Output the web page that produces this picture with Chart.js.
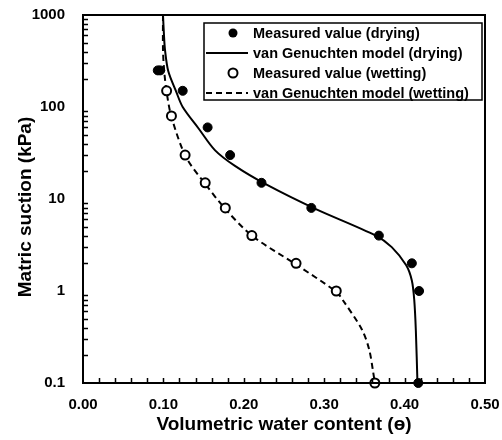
<!DOCTYPE html>
<html>
<head>
<meta charset="utf-8">
<script src="https://cdn.jsdelivr.net/npm/chart.js@4.4.1/dist/chart.umd.min.js"></script>
<style>
  html, body { margin: 0; padding: 0; background: #fff; }
  #wrap { width: 502px; height: 440px; }
</style>
</head>
<body>
<div id="wrap"><canvas id="swcc"></canvas></div>
<script>
// measured points
const dryX = [0.093, 0.096, 0.124, 0.155, 0.183, 0.222, 0.284, 0.368, 0.409, 0.418, 0.417];
const dryY = [250, 250, 150, 60, 30, 15, 8, 4, 2, 1, 0.1];
const wetX = [0.104, 0.110, 0.127, 0.152, 0.177, 0.210, 0.265, 0.315, 0.363];
const wetY = [150, 80, 30, 15, 8, 4, 2, 1, 0.1];

// fitted curves
const dryModelX = [0.0995, 0.1007, 0.102, 0.106, 0.116, 0.124, 0.144, 0.164, 0.189, 0.229, 0.289, 0.364, 0.384, 0.402, 0.409, 0.412, 0.414, 0.416];
const dryModelY = [1000, 606, 417, 246, 146, 100, 58, 34, 22.9, 14.2, 7.8, 4.0, 3.0, 1.9, 1.3, 0.8, 0.37, 0.1];
const wetModelX = [0.0995, 0.0995, 0.101, 0.104, 0.110, 0.128, 0.152, 0.177, 0.210, 0.265, 0.315, 0.323, 0.347, 0.356, 0.361, 0.363];
const wetModelY = [1000, 417, 246, 146, 78, 28.7, 14.6, 7.8, 4.0, 1.94, 0.98, 0.8, 0.38, 0.23, 0.13, 0.1];

const xTickValues = [0, 0.1, 0.2, 0.3, 0.4, 0.5];
const xTickLabels = ['0.00', '0.10', '0.20', '0.30', '0.40', '0.50'];
const yTickValues = [0.1, 1, 10, 100, 1000];
const yTickLabels = ['0.1', '1', '10', '100', '1000'];

const seriesNames = ['Measured value (drying)', 'van Genuchten model (drying)', 'Measured value (wetting)', 'van Genuchten model (wetting)'];
const yTitle = 'Matric suction (kPa)';

const FONT = '"Liberation Sans", Arial, sans-serif';

function pts(xs, ys) {
    return xs.map((x, i) => ({ x: x, y: ys[i] }));
}

// box, inward ticks, y title and the legend inside the plot
const framePlugin = {
    id: 'frame',
    afterDraw(chart) {
        const ctx = chart.ctx;
        const a = chart.chartArea;
        const xs = chart.scales.x;
        const ys = chart.scales.y;
        ctx.save();
        ctx.strokeStyle = '#000';
        ctx.lineWidth = 2;
        ctx.strokeRect(a.left, a.top, a.right - a.left, a.bottom - a.top);

        ctx.lineWidth = 1.5;
        ctx.beginPath();
        for (let i = 1; i < 25; i++) {
            const px = Math.round(xs.getPixelForValue(i * 0.02)) + 0.5;
            ctx.moveTo(px, a.bottom);
            ctx.lineTo(px, a.bottom - 5);
        }
        for (let k = -1; k < 3; k++) {
            for (let m = 2; m <= 9; m++) {
                const py = Math.round(ys.getPixelForValue(m * Math.pow(10, k))) + 0.5;
                ctx.moveTo(a.left, py);
                ctx.lineTo(a.left + 5, py);
            }
        }
        ctx.stroke();

        // y title, sits a bit below the middle of the axis in the original
        ctx.save();
        ctx.translate(26, 207);
        ctx.rotate(-Math.PI / 2);
        ctx.font = 'bold 19px ' + FONT;
        ctx.fillStyle = '#000';
        ctx.textAlign = 'center';
        ctx.textBaseline = 'middle';
        ctx.fillText(yTitle, 0, 0);
        ctx.restore();

        // legend
        const bx = a.right - 281, by = a.top + 8, bw = 278, bh = 77;
        ctx.lineWidth = 1.5;
        ctx.strokeRect(bx, by, bw, bh);
        ctx.font = 'bold 14.5px ' + FONT;
        ctx.fillStyle = '#000';
        ctx.textBaseline = 'middle';
        ctx.textAlign = 'left';
        for (let i = 0; i < 4; i++) {
            const ry = by + 10 + i * 20;
            if (i === 0) {
                ctx.beginPath();
                ctx.arc(bx + 29, ry, 4.5, 0, Math.PI * 2);
                ctx.fill();
            } else if (i === 2) {
                ctx.beginPath();
                ctx.lineWidth = 2;
                ctx.fillStyle = '#fff';
                ctx.arc(bx + 29, ry, 4.5, 0, Math.PI * 2);
                ctx.fill();
                ctx.stroke();
                ctx.fillStyle = '#000';
            } else {
                ctx.beginPath();
                ctx.lineWidth = 2;
                ctx.setLineDash(i === 3 ? [6, 4] : []);
                ctx.moveTo(bx + 2, ry);
                ctx.lineTo(bx + 44, ry);
                ctx.stroke();
                ctx.setLineDash([]);
            }
            ctx.fillText(seriesNames[i], bx + 49, ry + 1);
        }
        ctx.restore();
    }
};

new Chart(document.getElementById('swcc'), {
    type: 'scatter',
    data: {
        datasets: [{
            label: seriesNames[0],
            data: pts(dryX, dryY),
            pointRadius: 4.5,
            pointBackgroundColor: '#000',
            pointBorderColor: '#000',
            pointBorderWidth: 1,
            clip: false,
            order: 1
        }, {
            type: 'line',
            label: seriesNames[1],
            data: pts(dryModelX, dryModelY),
            borderColor: '#000',
            borderWidth: 2,
            pointRadius: 0,
            tension: 0.3,
            fill: false,
            order: 3
        }, {
            label: seriesNames[2],
            data: pts(wetX, wetY),
            pointRadius: 4.5,
            pointBackgroundColor: '#fff',
            pointBorderColor: '#000',
            pointBorderWidth: 2,
            clip: false,
            order: 2
        }, {
            type: 'line',
            label: seriesNames[3],
            data: pts(wetModelX, wetModelY),
            borderColor: '#000',
            borderWidth: 2,
            borderDash: [6, 4],
            pointRadius: 0,
            tension: 0.3,
            fill: false,
            order: 4
        }]
    },
    options: {
        responsive: true,
        maintainAspectRatio: false,
        animation: false,
        layout: { padding: { top: 15, right: 17, left: 0, bottom: 0 } },
        plugins: {
            legend: { display: false },
            tooltip: { enabled: false }
        },
        scales: {
            x: {
                type: 'linear',
                min: 0,
                max: 0.5,
                afterBuildTicks: s => { s.ticks = xTickValues.map(v => ({ value: v })); },
                afterFit: s => { s.height = 57; s.paddingLeft = 0; s.paddingRight = 0; },
                grid: { display: false },
                border: { display: false },
                ticks: {
                    padding: 5,
                    color: '#000',
                    font: { family: FONT, size: 15, weight: 'bold' },
                    callback: (v, i) => xTickLabels[i]
                },
                title: {
                    display: true,
                    text: 'Volumetric water content (ɵ)',
                    color: '#000',
                    font: { family: FONT, size: 19, weight: 'bold' },
                    padding: { top: 0, bottom: 4 }
                }
            },
            y: {
                type: 'logarithmic',
                min: 0.1,
                max: 1000,
                afterBuildTicks: s => { s.ticks = yTickValues.map(v => ({ value: v })); },
                afterFit: s => { s.width = 83; s.paddingTop = 0; s.paddingBottom = 0; },
                grid: { display: false },
                border: { display: false },
                ticks: {
                    padding: 10,
                    color: '#000',
                    font: { family: FONT, size: 15, weight: 'bold' },
                    callback: (v, i) => yTickLabels[i]
                },
                title: { display: false }
            }
        }
    },
    plugins: [framePlugin]
});
</script>
</body>
</html>
